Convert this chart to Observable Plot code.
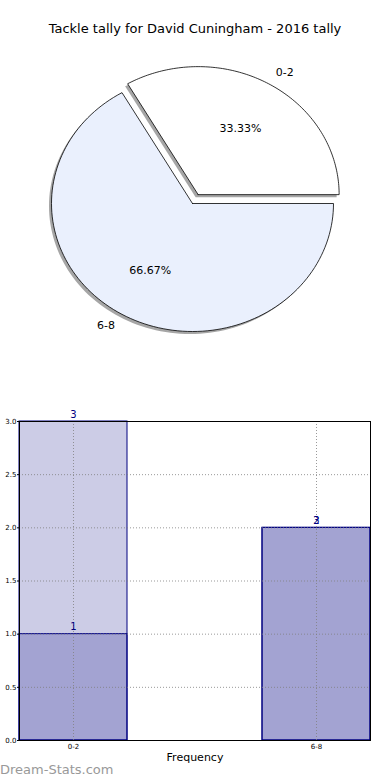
<!DOCTYPE html>
<html>
<head>
<meta charset="utf-8">
<script src="https://cdn.jsdelivr.net/npm/d3@7"></script>
<script src="https://cdn.jsdelivr.net/npm/@observablehq/plot@0.6"></script>
<style>
  html, body { margin: 0; padding: 0; background: white; }
  body { width: 390px; height: 780px; position: relative; overflow: hidden; font-family: "DejaVu Sans", sans-serif; }
  #title { position: absolute; left: 0; top: 21px; width: 390px; text-align: center; font-size: 13px; line-height: 16px; color: black; }
  #pie { position: absolute; left: 0; top: 45px; }
  #bar { position: absolute; left: 0; top: 375px; }
  #wm { position: absolute; left: 0; top: 762px; font-size: 13px; font-weight: normal; color: #999999; }
  svg { overflow: visible; }
</style>
</head>
<body>
<div id="title">Tackle tally for David Cuningham - 2016 tally</div>
<div id="pie"></div>
<div id="bar"></div>
<div id="wm">Dream-Stats.com</div>
<script>
// ---- data ----
const pieLabels = ["0-2", "6-8"];
const pieValues = [1, 2];
const pieColors = ["#ffffff", "#eaf0fd"];
const pieExplode = [0.08, 0];

const categories = ["0-2", "6-8"];
const lightValues = [3, 2];
const lightLabels = ["3", "3"];
const darkValues = [1, 2];
const darkLabels = ["1", "2"];
const yTicks = [0, 0.5, 1, 1.5, 2, 2.5, 3];

// ---- pie geometry from values ----
const total = d3.sum(pieValues);
let cum = 0;
const slices = pieValues.map((v, i) => {
  const a0 = cum / total * 2 * Math.PI;
  cum += v;
  const a1 = cum / total * 2 * Math.PI;
  const mid = (a0 + a1) / 2;
  const ox = pieExplode[i] * Math.cos(mid), oy = pieExplode[i] * Math.sin(mid);
  const pts = [{x: ox, y: oy}];
  const n = 120;
  for (let k = 0; k <= n; k++) {
    const a = a0 + (a1 - a0) * k / n;
    pts.push({x: ox + Math.cos(a), y: oy + Math.sin(a)});
  }
  pts.push({x: ox, y: oy});
  const lr = 1.1 + pieExplode[i], pr = 0.6 + pieExplode[i];
  return {
    pts, color: pieColors[i],
    label: pieLabels[i], lx: lr * Math.cos(mid), ly: lr * Math.sin(mid),
    pct: (v / total * 100).toFixed(2) + "%", px: pr * Math.cos(mid), py: pr * Math.sin(mid)
  };
});

const pieMarks = [];
slices.forEach(s => pieMarks.push(Plot.line(s.pts, {x: "x", y: "y", fill: "#4d4d4d", fillOpacity: 0.5, stroke: "none", dx: -2.5, dy: 2.5})));
slices.forEach(s => pieMarks.push(Plot.line(s.pts, {x: "x", y: "y", fill: s.color, stroke: "black", strokeWidth: 0.8})));
pieMarks.push(Plot.text(slices.filter(s => s.lx > 0), {x: "lx", y: "ly", text: "label", textAnchor: "start", fontSize: 11, fill: "black"}));
pieMarks.push(Plot.text(slices.filter(s => s.lx <= 0), {x: "lx", y: "ly", text: "label", textAnchor: "end", fontSize: 11, fill: "black"}));
pieMarks.push(Plot.text(slices, {x: "px", y: "py", text: "pct", fontSize: 11, fill: "black"}));

const pie = Plot.plot({
  width: 390, height: 330,
  marginLeft: 51, marginRight: 57, marginTop: 30, marginBottom: 44,
  x: {domain: [-1, 1], axis: null},
  y: {domain: [-1, 1], axis: null},
  style: {fontFamily: "DejaVu Sans", background: "transparent", overflow: "visible"},
  marks: pieMarks
});
document.getElementById("pie").appendChild(pie);

// ---- bar chart ----
const lightRows = categories.map((c, i) => ({cat: c, v: lightValues[i], t: lightLabels[i]}));
const darkRows = categories.map((c, i) => ({cat: c, v: darkValues[i], t: darkLabels[i]}));

const bar = Plot.plot({
  width: 390, height: 405,
  marginLeft: 19, marginRight: 20, marginTop: 46, marginBottom: 40,
  x: {domain: categories, paddingInner: 0.5556, paddingOuter: 0, align: 0.5},
  y: {domain: [0, 3]},
  style: {fontFamily: "DejaVu Sans", background: "transparent", overflow: "visible"},
  marks: [
    Plot.barY(lightRows, {x: "cat", y: "v", fill: "navy", fillOpacity: 0.2, stroke: "navy", strokeWidth: 1}),
    Plot.barY(darkRows, {x: "cat", y: "v", fill: "navy", fillOpacity: 0.2, stroke: "navy", strokeWidth: 1}),
    Plot.gridY(yTicks, {stroke: "#808080", strokeOpacity: 0.8, strokeDasharray: "1,2"}),
    Plot.gridX(categories, {stroke: "#808080", strokeOpacity: 0.8, strokeDasharray: "1,2"}),
    Plot.frame({stroke: "black", strokeWidth: 1}),
    Plot.text(lightRows, {x: "cat", y: "v", text: "t", dy: -7, fill: "navy", fontSize: 10}),
    Plot.text(darkRows, {x: "cat", y: "v", text: "t", dy: -7, fill: "navy", fontSize: 10}),
    Plot.axisY({ticks: yTicks, tickFormat: d3.format(".1f"), tickSize: 2, tickPadding: 1, fontSize: 7, label: null}),
    Plot.axisX({tickSize: 0, tickPadding: 4, fontSize: 7, label: null}),
    Plot.text(["Frequency"], {frameAnchor: "bottom", dy: 20, fontSize: 11, fill: "black"})
  ]
});
document.getElementById("bar").appendChild(bar);
</script>
</body>
</html>
